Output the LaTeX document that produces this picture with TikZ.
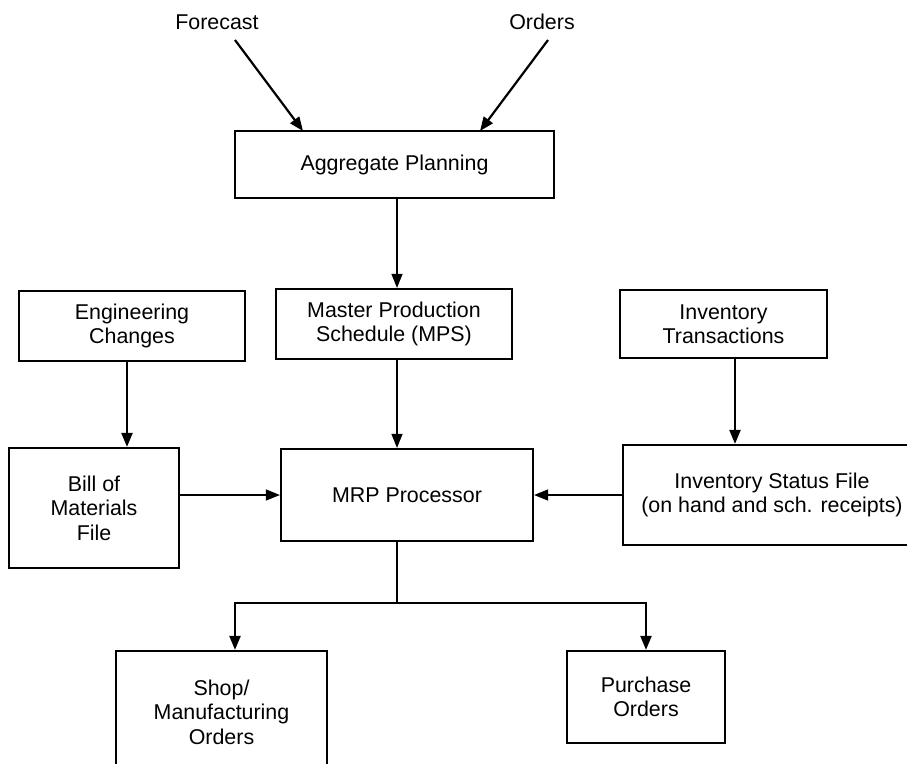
\documentclass[tikz,border=0pt]{standalone}
\usepackage{fontspec}
\setmainfont{Liberation Sans}
\usetikzlibrary{arrows.meta,calc}
\begin{document}
\begin{tikzpicture}[x=1pt,y=-1pt,
  every node/.style={font=\fontsize{21.4}{24.5}\selectfont, text=black},
  box/.style={draw=black, line width=2.2pt, inner sep=0pt, align=center, anchor=center},
  lbl/.style={inner sep=0pt, anchor=center},
  thinarrow/.style={draw=black, line width=1.3pt, -{Triangle[length=14pt,width=11pt]}},
  thickarrow/.style={draw=black, line width=2.2pt, -{Triangle[length=14pt,width=11pt]}},
  thickline/.style={draw=black, line width=2.2pt}]
\useasboundingbox (0,0) rectangle (907,763);
\fill[white] (0,0) rectangle (907,763);

% text labels
\node[lbl] (fc) at (217,22) {Forecast};
\node[lbl] (ord) at (542,22) {Orders};

% boxes
\node[box, minimum width=319pt, minimum height=67pt] (agg) at (394.5,164.5) {Aggregate Planning};
\node[box, minimum width=236pt, minimum height=70pt] (mps) at (394,324) {Master Production\\Schedule (MPS)};
\node[box, minimum width=226pt, minimum height=70pt] (eng) at (132,326) {Engineering\\Changes};
\node[box, minimum width=207pt, minimum height=68pt] (invt) at (723.5,324) {Inventory\\Transactions};
\node[box, minimum width=170pt, minimum height=120pt] (bom) at (94,508) {Bill of\\Materials\\File};
\node[box, minimum width=252pt, minimum height=92pt] (mrp) at (407,495) {MRP Processor};
\node[box, minimum width=298pt, minimum height=100pt] (isf) at (772,495) {Inventory Status File\\(on hand and sch. receipts)};
\node[box, minimum width=211pt, minimum height=122pt] (shop) at (221.5,712) {Shop/\\Manufacturing\\Orders};
\node[box, minimum width=158pt, minimum height=92pt] (po) at (646,697) {Purchase\\Orders};

% helper coordinates
\coordinate (fcstart) at (235,40);
\coordinate (aggin1) at (303,131);
\coordinate (ordstart) at (548,40);
\coordinate (aggin2) at (480,131);
\coordinate (spine) at (397,0);
\coordinate (ebx) at (127,0);
\coordinate (itx) at (735,0);
\coordinate (branch) at (0,603);
\coordinate (shopx) at (235,0);

% connectors
\draw[thickarrow] (fcstart) -- (aggin1);
\draw[thickarrow] (ordstart) -- (aggin2);
\draw[thinarrow] (agg.south -| spine) -- (mps.north -| spine);
\draw[thinarrow] (mps.south -| spine) -- (mrp.north -| spine);
\draw[thickarrow] (eng.south -| ebx) -- (bom.north -| ebx);
\draw[thickarrow] (invt.south -| itx) -- (isf.north -| itx);
\draw[thinarrow] (bom.east |- mrp.west) -- (mrp.west);
\draw[thinarrow] (isf.west) -- (mrp.east);
\draw[thickline] (mrp.south -| spine) -- (spine |- branch);
\draw[thickarrow] (spine |- branch) -| (shop.north -| shopx);
\draw[thickarrow] (spine |- branch) -| (po.north);
\end{tikzpicture}
\end{document}
